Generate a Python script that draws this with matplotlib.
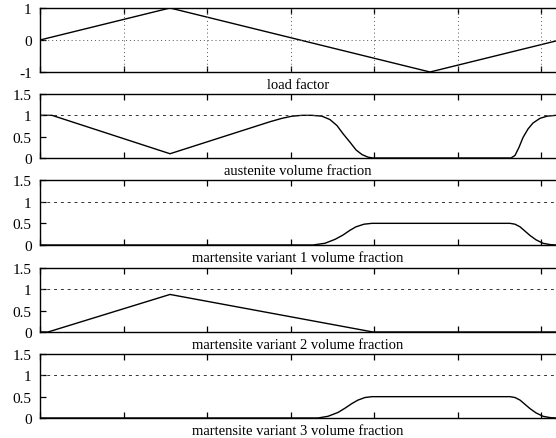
import matplotlib
matplotlib.use("Agg")
import matplotlib.pyplot as plt
import numpy as np

plt.rcParams['font.family'] = ['Liberation Serif', 'DejaVu Serif']

# x positions are in tick units (one unit between major ticks)
PX0, PXU = 40.0, 83.5
def t(px):
    return [(p - PX0) / PXU for p in px]

load_x = t([40, 170, 430, 556])
load_y = [0.0, 1.0, -1.0, -0.03]

aust_x = t([40, 52, 170, 270, 282, 292, 302, 312, 322, 330, 337, 343, 350, 356, 362, 368, 373,
            511, 515, 519, 523, 528, 533, 540, 547, 556])
aust_y = [1.0, 1.0, 0.10, 0.85, 0.93, 0.98, 1.0, 1.0, 0.98, 0.90, 0.76, 0.57, 0.37, 0.19, 0.08, 0.02, 0.0,
          0.0, 0.06, 0.25, 0.48, 0.68, 0.82, 0.93, 0.98, 1.0]

m1_x = t([40, 313, 325, 335, 343, 350, 356, 364, 372, 510, 515, 520, 525, 530, 536, 543, 550, 556])
m1_y = [0.0, 0.0, 0.04, 0.13, 0.23, 0.34, 0.42, 0.48, 0.5, 0.5, 0.48, 0.42, 0.32, 0.22, 0.12, 0.04, 0.01, 0.0]

m2_x = t([40, 48, 170, 373, 556])
m2_y = [0.0, 0.0, 0.88, 0.0, 0.0]

m3_x = t([40, 318, 328, 338, 345, 352, 358, 365, 372, 510, 515, 520, 525, 530, 536, 543, 550, 556])
m3_y = [0.0, 0.0, 0.04, 0.13, 0.23, 0.34, 0.42, 0.48, 0.5, 0.5, 0.48, 0.42, 0.32, 0.22, 0.12, 0.04, 0.01, 0.0]

titles = ["load factor", "austenite volume fraction", "martensite variant 1 volume fraction",
          "martensite variant 2 volume fraction", "martensite variant 3 volume fraction"]
series = [(load_x, load_y), (aust_x, aust_y), (m1_x, m1_y), (m2_x, m2_y), (m3_x, m3_y)]

W, H = 556, 439
fig = plt.figure(figsize=(W / 100, H / 100), dpi=100)

tops = [9, 95, 181, 269, 355]
bots = [73, 159, 246, 333, 419]
xmax = (556 - PX0) / PXU

for i in range(5):
    ax = fig.add_axes([PX0 / W, 1 - bots[i] / H, (W - PX0) / W, (bots[i] - tops[i]) / H])
    x, y = series[i]
    ax.plot(x, y, color='black', lw=1.0, solid_joinstyle='miter')
    ax.set_xlim(0, xmax)
    ax.set_xticks(np.arange(0, 7))
    ax.set_xticklabels([])
    if i == 0:
        ax.set_ylim(-1, 1)
        ax.set_yticks([-1, 0, 1])
        ax.set_yticklabels(["-1", "0", "1"])
        for xv in range(1, 7):
            ax.axvline(xv, color='#555555', lw=0.7, ls=(0, (1, 3)))
        ax.axhline(0, color='#555555', lw=0.7, ls=(0, (1, 3)))
    else:
        ax.set_ylim(0, 1.5)
        ax.set_yticks([0, 0.5, 1, 1.5])
        ax.set_yticklabels(["0", "0.5", "1", "1.5"])
        ax.axhline(1, color='#333333', lw=0.7, ls=(0, (3, 4)))
    ax.spines['right'].set_visible(False)
    for s in ['left', 'top', 'bottom']:
        ax.spines[s].set_linewidth(1.0)
    ax.tick_params(axis='x', direction='in', top=True, bottom=True, length=4, width=0.9)
    ax.tick_params(axis='y', direction='in', left=True, right=False, length=4, width=0.9,
                   labelsize=11, pad=6)
    ax.set_xlabel(titles[i], fontsize=10.5, labelpad=1)

fig.savefig("out.png", dpi=100)
